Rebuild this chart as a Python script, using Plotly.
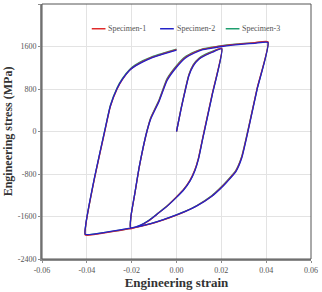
import plotly.graph_objects as go

# Loading path (engineering strain), shared by the three specimens
strain = [
    0, 0.002, 0.004, 0.0055, 0.0075, 0.010, 0.013, 0.016, 0.0202,
    0.016, 0.0123, 0.0113, 0.0098, 0.0082, 0.006, 0.003, 0.0, -0.004, -0.0086, -0.0125, -0.016, -0.0205,
    -0.0203, -0.0185, -0.0167, -0.015, -0.0132, -0.0115, -0.0078, -0.0042, 0.0, 0.004, 0.008, 0.0114, 0.016, 0.0202, 0.025, 0.030, 0.035, 0.0408,
    0.036, 0.0318, 0.0291, 0.0265, 0.0225, 0.0198, 0.0158, 0.0091, 0.004, 0.0, -0.0058, -0.0115, -0.0207, -0.030, -0.0407,
    -0.0404, -0.0365, -0.032, -0.0295, -0.0265, -0.0241, -0.021, -0.0185, -0.015, -0.0108, -0.006, 0.0,
]

stress_1 = [
    0, 420, 800, 1060, 1250, 1370, 1445, 1500, 1568,
    720, 0, -200, -500, -720, -920, -1100, -1230, -1395, -1555, -1685, -1770, -1830,
    -1600, -1150, -690, -330, 0, 250, 580, 980, 1225, 1398, 1490, 1545, 1582, 1612, 1636, 1656, 1672, 1690,
    820, 0, -480, -740, -940, -1060, -1212, -1398, -1505, -1575, -1665, -1740, -1830, -1895, -1950,
    -1745, -870, 0, 470, 800, 980, 1150, 1235, 1320, 1400, 1465, 1540,
]

stress_2 = [
    0, 410, 790, 1045, 1235, 1360, 1435, 1492, 1555,
    700, -20, -220, -520, -740, -935, -1110, -1240, -1400, -1555, -1680, -1760, -1815,
    -1590, -1140, -680, -320, 0, 235, 565, 960, 1210, 1385, 1478, 1535, 1570, 1600, 1625, 1645, 1660, 1675,
    800, -15, -500, -755, -950, -1068, -1218, -1400, -1505, -1570, -1658, -1732, -1820, -1885, -1935,
    -1730, -850, 15, 480, 810, 985, 1150, 1230, 1312, 1390, 1455, 1530,
]

stress_3 = [
    0, 430, 810, 1070, 1260, 1380, 1455, 1510, 1560,
    710, -10, -210, -505, -725, -925, -1102, -1232, -1392, -1548, -1676, -1762, -1818,
    -1595, -1145, -685, -325, 10, 260, 595, 995, 1240, 1410, 1500, 1552, 1588, 1616, 1640, 1658, 1670, 1682,
    810, 10, -470, -730, -930, -1050, -1205, -1392, -1498, -1568, -1660, -1735, -1822, -1888, -1940,
    -1735, -860, 20, 495, 825, 1000, 1165, 1250, 1335, 1412, 1475, 1550,
]

series_names = ["Specimen-1", "Specimen-2", "Specimen-3"]
series_stress = [stress_1, stress_2, stress_3]
series_colors = ["#e02a2a", "#2323c8", "#1e9e6e"]
draw_order = [2, 0, 1]  # green underneath, blue on top

x_tick_vals = [-0.06, -0.04, -0.02, 0.0, 0.02, 0.04, 0.06]
x_tick_text = ["-0.06", "-0.04", "-0.02", "0.00", "0.02", "0.04", "0.06"]
y_tick_vals = [-2400, -1600, -800, 0, 800, 1600, 2400]
y_tick_text = ["-2400", "-1600", "-800", "0", "800", "1600", "2400"]

serif = "Liberation Serif, Times New Roman, serif"

fig = go.Figure()
for i in draw_order:
    fig.add_trace(go.Scatter(x=strain, y=series_stress[i], mode="lines", name=series_names[i],
                             showlegend=False,
                             line=dict(color=series_colors[i], width=1.3, shape="spline", smoothing=0.5)))

# custom legend (line sample + label), positions in plot-area fractions
legend_x = [0.185, 0.439, 0.683]
legend_y = 0.903
sample_len = 0.051
for lx, name, col in zip(legend_x, series_names, series_colors):
    fig.add_shape(type="line", xref="paper", yref="paper", x0=lx, x1=lx + sample_len,
                  y0=legend_y, y1=legend_y, line=dict(color=col, width=1.5))
    fig.add_annotation(xref="paper", yref="paper", x=lx + sample_len + 0.003, y=legend_y,
                       text=name, showarrow=False, xanchor="left", yanchor="middle",
                       font=dict(family=serif, size=8, color="#555"))

fig.update_layout(
    width=322, height=292,
    margin=dict(l=42, r=9, t=4, b=30),
    paper_bgcolor="white", plot_bgcolor="white",
    font=dict(family=serif, color="#444"),
    showlegend=False,
    xaxis=dict(
        range=[-0.06, 0.06], tickvals=x_tick_vals, ticktext=x_tick_text,
        showgrid=True, gridcolor="#e3e3e3", gridwidth=1, zeroline=False,
        showline=True, linecolor="#8c8c8c", linewidth=2,
        ticks="outside", ticklen=2, tickcolor="#8c8c8c",
        tickfont=dict(family=serif, size=8, color="#555"),
        title=dict(text="<b>Engineering strain</b>", standoff=4,
                   font=dict(family=serif, size=13, color="#333")),
    ),
    yaxis=dict(
        range=[-2400, 2400], tickvals=y_tick_vals, ticktext=y_tick_text,
        showgrid=True, gridcolor="#e3e3e3", gridwidth=1, zeroline=False,
        showline=True, linecolor="#8c8c8c", linewidth=2,
        ticks="outside", ticklen=2, tickcolor="#8c8c8c",
        tickfont=dict(family=serif, size=8, color="#555"),
        title=dict(text="<b>Engineering stress (MPa)</b>", standoff=3,
                   font=dict(family=serif, size=12, color="#333")),
    ),
)
# thin frame around the plot area
fig.add_shape(type="rect", xref="x domain", yref="y domain", x0=0, y0=0, x1=1, y1=1,
              line=dict(color="#555", width=1), layer="above")

fig.write_html("out.html")
